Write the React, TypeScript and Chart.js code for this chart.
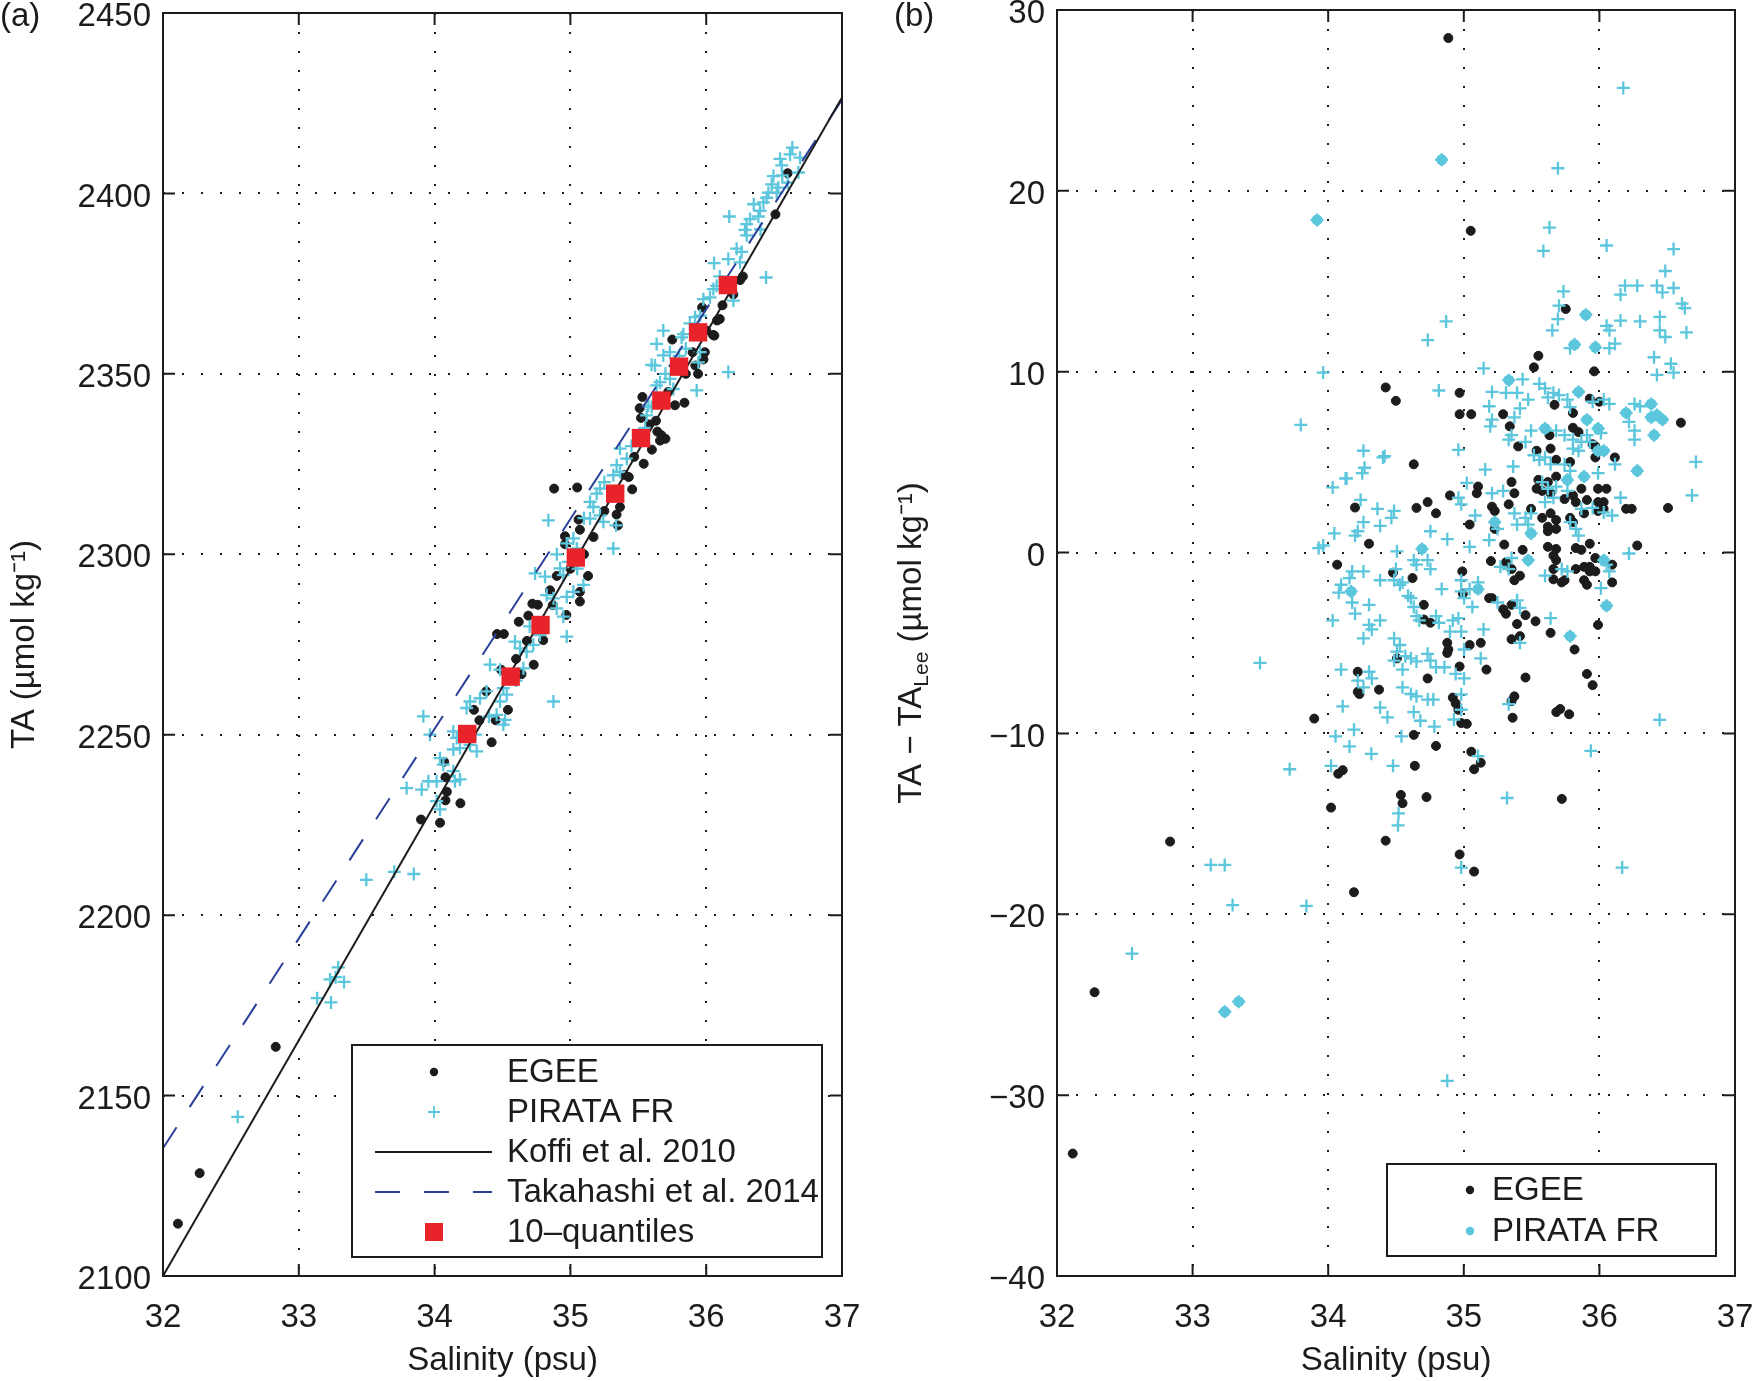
import { useEffect, useRef } from 'react';
import { Chart, registerables } from 'chart.js';
import type { ChartConfiguration, Plugin } from 'chart.js';

Chart.register(...registerables);

const FONT = '"Liberation Sans", Arial, Helvetica, sans-serif';
const INK = '#1c1c1c';
const CYAN = '#5cc6dc';
const NAVY = '#2a419a';
const RED = '#e8232a';

type Pt = [number, number];

// axes
const salinityTicks = [32, 33, 34, 35, 36, 37];
const taTicks = [2100, 2150, 2200, 2250, 2300, 2350, 2400, 2450];
const diffTicks = [-40, -30, -20, -10, 0, 10, 20, 30];

// panel (a): fitted relations, two end points each
const koffiLine: Pt[] = [[32, 2100], [37, 2426.6]];
const takahashiLine: Pt[] = [[32, 2135.4], [37, 2426]];

const quantiles: Pt[] = [
  [34.24, 2250.2], [34.56, 2266.1], [34.78, 2280.4], [35.04, 2299.1], [35.33, 2316.8],
  [35.52, 2332.2], [35.67, 2342.6], [35.8, 2352.0], [35.94, 2361.5], [36.16, 2374.6],
];

const egeeTA: Pt[] = [
  [36.6, 2405.6], [36.51, 2394.2], [36.27, 2377.0], [36.25, 2376.0], [35.97, 2368.4], [36.1, 2365.2],
  [36.06, 2360.6], [35.75, 2359.5], [35.99, 2356.0], [35.98, 2354.0], [35.92, 2352.3], [35.94, 2350.0],
  [35.77, 2341.3], [35.84, 2342.0], [35.51, 2340.5], [35.53, 2343.6], [35.63, 2337.0], [35.67, 2333.0],
  [35.52, 2337.8], [35.7, 2332.0], [36.05, 2360.8], [36.08, 2364.8], [35.64, 2334.0], [35.66, 2331.5],
  [35.54, 2325.1], [35.43, 2321.4], [35.455, 2318.0], [35.365, 2313.1], [35.34, 2311.0], [35.35, 2308.0],
  [34.88, 2318.2], [35.05, 2318.5], [35.06, 2309.6], [35.07, 2306.8], [35.17, 2304.8], [34.96, 2305.0],
  [34.96, 2302.8], [35.13, 2294.0], [34.9, 2294.0], [35.07, 2289.6], [35.07, 2286.9], [34.97, 2283.2],
  [34.87, 2285.9], [34.76, 2286.0], [34.72, 2286.3], [34.62, 2281.3], [34.69, 2283.0], [34.8, 2276.2],
  [34.46, 2277.9], [34.51, 2277.9], [34.73, 2269.4], [34.64, 2266.8], [34.49, 2268.0], [34.33, 2254.0],
  [34.29, 2256.9], [34.54, 2256.9], [34.45, 2254.0], [34.42, 2247.9], [34.07, 2242.5], [34.08, 2238.2],
  [34.09, 2234.2], [34.08, 2231.8], [34.19, 2231.0], [33.9, 2226.5], [34.04, 2225.6], [32.83, 2163.5],
  [32.27, 2128.5], [32.11, 2114.5], [35.25, 2312.0], [35.3, 2316.0], [35.4, 2322.0], [35.47, 2327.0],
  [35.58, 2336.0], [35.6, 2329.0], [35.72, 2345.0], [35.85, 2350.0], [35.9, 2356.0], [36.0, 2362.0],
  [36.12, 2369.0], [36.2, 2372.0], [34.6, 2271.0], [34.68, 2276.0], [34.85, 2290.0], [35.0, 2296.0],
  [35.1, 2300.0], [34.38, 2262.0], [34.25, 2249.0],
];

const pirataTA: Pt[] = [
  [36.634, 2412.7], [36.617, 2410.8], [36.544, 2409.6], [36.556, 2407.8], [36.691, 2409.9], [36.495, 2404.8],
  [36.482, 2402.5], [36.531, 2401.6], [36.679, 2405.8], [36.445, 2398.8], [36.421, 2397.5], [36.458, 2400.2],
  [36.519, 2400.2], [36.396, 2395.2], [36.384, 2393.6], [36.323, 2392.9], [36.298, 2391.5], [36.286, 2389.9],
  [36.298, 2388.4], [36.17, 2393.6], [36.224, 2384.7], [36.261, 2383.8], [36.163, 2381.8], [36.249, 2380.9],
  [36.058, 2380.7], [36.441, 2376.7], [36.077, 2374.4], [36.053, 2373.5], [36.2, 2370.3], [35.979, 2370.7],
  [36.028, 2371.2], [35.918, 2365.7], [35.955, 2366.1], [35.832, 2361.0], [35.819, 2360.1], [35.684, 2362.0],
  [35.635, 2358.3], [35.733, 2356.0], [35.684, 2355.1], [35.598, 2352.5], [35.623, 2352.3], [35.955, 2356.0],
  [35.942, 2353.2], [35.93, 2345.4], [36.163, 2350.5], [35.66, 2347.7], [35.635, 2346.8], [35.733, 2348.6],
  [35.574, 2341.2], [35.598, 2340.8], [35.562, 2338.5], [35.66, 2342.2], [35.758, 2345.8], [35.365, 2329.3],
  [35.415, 2326.5], [35.341, 2324.7], [35.366, 2322.8], [35.316, 2321.9], [35.218, 2318.2], [35.194, 2316.8],
  [35.145, 2314.5], [35.169, 2313.1], [35.218, 2310.8], [35.243, 2309.0], [35.145, 2309.9], [35.336, 2308.0],
  [35.316, 2301.6], [34.838, 2309.4], [35.022, 2304.4], [34.973, 2303.0], [35.047, 2301.6], [34.985, 2297.9],
  [34.924, 2296.1], [34.948, 2294.2], [35.096, 2291.5], [35.022, 2289.6], [34.973, 2288.2], [34.875, 2287.8],
  [34.825, 2288.7], [34.899, 2285.0], [34.948, 2282.7], [34.74, 2294.7], [34.813, 2293.8], [34.973, 2277.2],
  [34.776, 2277.6], [34.727, 2274.9], [34.678, 2273.0], [34.629, 2273.9], [34.592, 2275.8], [34.408, 2269.4],
  [34.482, 2268.0], [34.58, 2267.0], [34.654, 2268.4], [34.506, 2262.9], [34.531, 2261.1], [34.482, 2259.2],
  [34.383, 2262.0], [34.334, 2260.1], [34.261, 2259.2], [34.236, 2257.4], [34.519, 2254.1], [34.506, 2252.8],
  [34.457, 2255.5], [34.875, 2259.2], [34.138, 2250.9], [34.163, 2249.1], [34.138, 2245.9], [34.187, 2246.3],
  [34.31, 2245.4], [34.261, 2247.2], [33.917, 2255.1], [33.966, 2250.0], [34.04, 2243.5], [34.064, 2241.7],
  [34.138, 2239.9], [34.187, 2237.6], [34.015, 2237.1], [33.954, 2237.1], [34.15, 2237.1], [33.794, 2235.2],
  [33.905, 2234.8], [34.015, 2231.6], [34.04, 2229.3], [33.497, 2209.8], [33.703, 2212.0], [33.847, 2211.4],
  [33.271, 2182.8], [33.23, 2182.2], [33.29, 2185.5], [33.333, 2181.5], [33.135, 2177.0], [33.237, 2175.8],
  [32.55, 2144.1], [35.45, 2330.0], [35.5, 2333.0], [35.55, 2335.0], [35.25, 2320.0], [35.1, 2310.0],
  [35.05, 2296.0], [34.9, 2300.0], [34.7, 2280.0], [34.6, 2265.0], [34.4, 2255.0], [34.3, 2250.0],
  [35.8, 2355.0], [35.85, 2357.0], [36.1, 2377.0], [36.35, 2397.0], [36.56, 2405.0], [36.6, 2403.0],
  [36.4, 2390.0], [35.88, 2364.0], [35.7, 2350.0],
];

// panel (b): TA - TA_Lee
const egeeDiff: Pt[] = [
  [34.886, 28.45], [35.051, 17.79], [35.752, 13.47], [35.55, 10.88], [35.517, 10.24], [35.962, 10.02],
  [34.424, 9.13], [34.499, 8.39], [34.969, 8.83], [34.969, 7.65], [35.055, 7.65], [35.29, 7.65],
  [35.669, 8.17], [35.929, 8.51], [35.999, 8.34], [35.805, 7.72], [35.339, 6.98], [35.805, 6.9],
  [35.846, 6.66], [36.601, 7.18], [35.632, 6.49], [35.401, 5.87], [35.537, 5.63], [35.64, 5.75],
  [35.681, 5.13], [35.784, 5.01], [35.97, 5.26], [35.95, 5.99], [35.97, 5.87], [36.114, 5.26],
  [34.631, 4.88], [35.55, 4.02], [35.62, 3.9], [35.681, 4.2], [35.537, 3.53], [35.578, 3.41],
  [35.64, 3.28], [35.867, 3.53], [35.99, 3.53], [36.052, 3.53], [35.99, 2.79], [36.031, 2.79],
  [35.743, 2.96], [35.805, 3.16], [35.908, 2.91], [35.826, 2.79], [35.105, 3.65], [35.096, 3.28],
  [34.898, 3.16], [35.352, 3.9], [35.373, 3.28], [35.331, 2.67], [35.208, 2.54], [35.228, 2.3],
  [35.496, 2.42], [35.62, 1.43], [35.681, 1.8], [35.64, 2.17], [35.578, 1.92], [35.784, 1.92],
  [35.887, 2.17], [35.99, 2.3], [36.031, 2.42], [36.197, 2.42], [36.238, 2.42], [36.506, 2.47],
  [34.198, 2.49], [34.651, 2.47], [34.733, 2.79], [34.795, 2.17], [35.043, 1.55], [35.228, 1.31],
  [35.62, 1.18], [35.681, 1.31], [35.805, 1.68], [34.301, 0.49], [35.298, 0.44], [35.434, 0.15],
  [35.62, 0.32], [35.681, 0.2], [35.826, 0.25], [35.867, 0.15], [35.929, 0.49], [36.279, 0.39],
  [35.97, -0.3], [35.929, -0.79], [35.661, -0.17], [35.681, -0.42], [34.066, -0.67], [35.2, -0.47],
  [35.311, -0.54], [35.352, -0.91], [35.661, -0.91], [35.826, -0.91], [35.887, -0.79], [35.97, -1.04],
  [35.929, -1.04], [36.094, -0.67], [36.094, -1.65], [35.887, -1.53], [35.908, -1.78], [35.722, -1.65],
  [35.661, -1.48], [35.743, -1.53], [35.373, -1.53], [35.414, -1.28], [34.989, -1.04], [34.622, -1.41],
  [34.478, -1.11], [34.993, -2.27], [35.187, -2.52], [35.208, -2.52], [34.705, -2.89], [35.352, -2.89],
  [35.29, -3.14], [35.311, -3.38], [35.455, -3.46], [35.529, -3.8], [34.705, -3.7], [34.754, -3.88],
  [35.393, -3.95], [35.99, -4.0], [35.64, -4.44], [35.352, -4.79], [35.414, -4.62], [34.878, -4.99],
  [34.886, -5.36], [34.878, -5.55], [35.125, -4.99], [35.043, -5.11], [34.507, -5.85], [34.969, -6.3],
  [35.167, -6.47], [35.455, -6.91], [35.817, -5.36], [35.908, -6.71], [35.95, -7.33], [34.733, -6.96],
  [34.218, -6.59], [34.218, -7.7], [34.23, -7.82], [34.375, -7.58], [35.373, -7.95], [34.919, -8.02],
  [34.94, -8.33], [34.96, -8.69], [34.981, -9.43], [35.022, -9.47], [35.352, -8.21], [35.36, -9.13],
  [35.682, -8.82], [35.711, -8.65], [35.777, -8.94], [33.897, -9.18], [34.631, -10.08], [34.795, -10.69],
  [35.055, -11.01], [35.125, -11.62], [35.076, -11.98], [34.639, -11.79], [34.074, -12.23], [34.107, -12.03],
  [34.536, -13.4], [34.548, -13.86], [34.725, -13.52], [34.021, -14.1], [35.723, -13.62], [34.424, -15.93],
  [32.834, -15.98], [34.969, -16.69], [35.076, -17.64], [34.19, -18.78], [32.277, -24.31], [32.116, -33.23],
];

const pirataDiff: Pt[] = [
  [36.176, 25.69], [35.694, 21.25], [35.632, 17.97], [35.587, 16.68], [36.053, 16.98], [36.547, 16.78],
  [36.486, 15.57], [36.189, 14.76], [36.279, 14.76], [36.424, 14.76], [36.547, 14.63], [36.465, 14.39],
  [36.156, 14.26], [35.735, 14.44], [35.702, 13.65], [35.694, 12.91], [35.653, 12.29], [34.87, 12.78],
  [34.734, 11.75], [36.053, 12.54], [36.074, 12.29], [36.156, 12.83], [36.3, 12.78], [36.445, 13.03],
  [36.445, 12.29], [36.486, 11.92], [36.63, 13.52], [36.642, 12.17], [36.609, 13.77], [36.115, 11.55],
  [36.074, 11.3], [36.403, 10.8], [36.527, 10.44], [36.424, 9.82], [36.547, 9.95], [35.784, 11.3],
  [33.963, 9.95], [34.816, 8.96], [35.146, 10.19], [35.187, 8.09], [35.208, 8.88], [35.311, 8.83],
  [35.393, 8.83], [35.434, 9.58], [35.557, 9.33], [35.599, 9.08], [35.661, 8.83], [35.702, 8.71],
  [35.62, 8.58], [35.475, 8.46], [35.414, 7.97], [35.764, 8.46], [35.784, 8.04], [35.95, 8.34],
  [36.032, 8.46], [36.073, 8.22], [36.259, 8.22], [36.3, 8.09], [36.218, 7.23], [36.259, 6.74],
  [36.259, 6.24], [35.195, 6.98], [35.208, 7.35], [35.373, 7.48], [35.331, 6.24], [35.352, 6.49],
  [35.455, 6.12], [35.496, 6.74], [35.681, 6.74], [35.743, 6.49], [35.805, 6.24], [35.867, 6.12],
  [36.011, 6.61], [35.908, 6.49], [35.929, 6.12], [35.805, 5.75], [35.846, 5.63], [35.517, 5.38],
  [35.557, 5.13], [35.599, 5.26], [35.64, 4.88], [35.743, 4.88], [35.784, 4.52], [35.99, 4.39],
  [36.115, 4.88], [36.712, 5.01], [36.683, 3.16], [36.156, 3.03], [34.96, 5.68], [35.158, 4.59],
  [35.364, 4.76], [35.022, 3.85], [35.208, 3.28], [35.29, 3.41], [35.578, 3.9], [35.62, 3.53],
  [35.661, 3.03], [35.599, 2.79], [35.764, 3.41], [35.681, 3.65], [35.496, 2.17], [35.373, 2.17],
  [35.455, 1.92], [35.475, 1.55], [35.249, 1.31], [35.784, 1.68], [35.826, 1.31], [35.846, 0.94],
  [35.867, 2.42], [35.95, 2.47], [36.032, 2.22], [36.094, 2.05], [35.084, 2.05], [34.96, 3.03],
  [34.981, 2.67], [34.251, 4.39], [34.268, 4.69], [34.136, 4.1], [34.416, 5.33], [34.26, 5.63],
  [34.239, 2.91], [34.363, 2.42], [34.486, 2.3], [34.466, 1.92], [34.26, 1.68], [34.218, 1.18],
  [34.198, 0.94], [34.383, 1.48], [34.045, 1.06], [33.93, 0.25], [33.963, 0.39], [34.754, 1.18],
  [34.878, 0.74], [35.043, 0.32], [35.187, 0.69], [35.393, 1.55], [35.352, -0.3], [35.27, -0.79],
  [35.331, -0.91], [35.599, -1.28], [35.722, -0.91], [35.764, -1.04], [36.053, -0.67], [36.073, -1.04],
  [36.011, -1.97], [36.218, -0.05], [34.507, 0.07], [34.499, -0.91], [34.486, -1.53], [34.631, -0.42],
  [34.651, -0.67], [34.733, -0.42], [34.754, -0.91], [34.383, -1.53], [34.528, -1.78], [34.548, -1.65],
  [34.589, -2.39], [34.61, -2.52], [34.26, -1.04], [34.177, -1.04], [34.157, -1.41], [34.095, -1.78],
  [34.078, -2.22], [34.177, -2.76], [34.198, -3.38], [34.301, -2.89], [34.033, -3.75], [34.301, -4.0],
  [34.383, -3.75], [34.631, -3.01], [34.651, -3.51], [34.672, -3.75], [34.837, -2.02], [34.981, -1.53],
  [34.981, -2.15], [35.002, -2.52], [35.105, -1.65], [35.043, -2.02], [35.063, -3.01], [35.249, -2.76],
  [35.393, -2.64], [35.414, -3.06], [34.795, -3.51], [34.816, -3.88], [34.919, -3.75], [34.96, -3.63],
  [34.981, -4.37], [35.146, -4.25], [35.64, -3.63], [35.414, -4.99], [34.322, -4.25], [34.26, -4.74],
  [34.486, -4.74], [34.528, -5.11], [34.507, -5.48], [34.569, -5.73], [34.61, -5.85], [34.651, -6.02],
  [34.486, -5.97], [34.548, -6.47], [34.733, -5.6], [34.754, -5.97], [34.795, -6.34], [34.857, -6.34],
  [34.898, -4.37], [35.125, -5.85], [35.002, -5.36], [34.095, -6.47], [34.301, -6.59], [34.218, -7.08],
  [34.26, -7.45], [34.322, -6.96], [34.548, -7.45], [34.61, -7.82], [34.651, -7.95], [34.94, -6.71],
  [35.002, -6.96], [33.497, -6.1], [33.798, 7.06], [34.033, 3.6], [34.128, 4.1], [34.404, 5.26],
  [34.107, -8.5], [34.383, -8.57], [34.437, -9.11], [34.631, -8.82], [34.68, -9.3], [34.734, -8.13],
  [34.775, -8.13], [34.783, -9.62], [34.927, -9.23], [34.981, -8.69], [34.981, -7.84], [35.331, -8.38],
  [34.054, -10.16], [34.19, -9.79], [34.157, -10.72], [34.54, -10.16], [34.318, -11.13], [34.021, -11.79],
  [34.478, -11.79], [33.716, -11.98], [35.105, -11.25], [35.937, -10.96], [35.319, -13.57], [34.519, -14.42],
  [34.515, -15.08], [33.134, -17.27], [33.237, -17.27], [34.981, -17.42], [36.168, -17.42], [33.295, -19.49],
  [33.839, -19.54], [32.553, -22.17], [34.878, -29.21], [36.444, -9.25],
];

// PIRATA FR samples drawn with a filled dot in panel (b)
const pirataDiffDots: Pt[] = [
  [34.837, 21.72], [33.918, 18.39], [35.9, 13.15], [35.817, 11.5], [35.97, 11.35], [35.332, 9.53],
  [35.846, 8.88], [36.197, 7.72], [36.382, 8.22], [36.382, 7.48], [36.424, 7.6], [36.465, 7.35],
  [36.403, 6.49], [35.599, 6.86], [35.908, 7.35], [35.99, 6.86], [35.99, 5.63], [36.032, 5.63],
  [35.764, 4.02], [35.887, 4.2], [36.279, 4.52], [35.496, 1.06], [35.228, 1.68], [34.692, 0.2],
  [35.475, -0.42], [36.032, -0.42], [34.169, -2.15], [35.105, -2.02], [35.784, -4.62], [36.053, -2.94],
  [33.237, -25.39], [33.34, -24.83],
];

const xy = (pts: Pt[]) => pts.map(([x, y]) => ({ x, y }));
const tickText = (v: number | string) => {
  const n = Number(v);
  return n < 0 ? `\u2212${Math.abs(n)}` : `${n}`;
};

type Row = { label: string; kind: 'dot' | 'cross' | 'line' | 'dash' | 'square' | 'cdot' };
type Box = { x0: number; y0: number; x1: number; y1: number; mx: number; tx: number; rows: number[] };

const drawMarker = (ctx: CanvasRenderingContext2D, kind: Row['kind'], x: number, y: number) => {
  ctx.save();
  if (kind === 'dot' || kind === 'cdot') {
    ctx.fillStyle = kind === 'dot' ? INK : CYAN;
    ctx.beginPath();
    ctx.arc(x, y, 4.2, 0, Math.PI * 2);
    ctx.fill();
  } else if (kind === 'cross') {
    ctx.strokeStyle = CYAN;
    ctx.lineWidth = 1.8;
    ctx.beginPath();
    ctx.moveTo(x - 6, y);
    ctx.lineTo(x + 6, y);
    ctx.moveTo(x, y - 6);
    ctx.lineTo(x, y + 6);
    ctx.stroke();
  } else if (kind === 'square') {
    ctx.fillStyle = RED;
    ctx.fillRect(x - 9, y - 9, 18, 18);
  } else {
    ctx.strokeStyle = kind === 'line' ? INK : NAVY;
    ctx.lineWidth = 2;
    ctx.setLineDash(kind === 'dash' ? [25, 24] : []);
    ctx.beginPath();
    ctx.moveTo(x - 59, y);
    ctx.lineTo(x + 58, y);
    ctx.stroke();
  }
  ctx.restore();
};

const framePlugin = (panel: string, panelX: number, legend: Row[], box: Box, rightTitle: boolean): Plugin<'scatter'> => ({
  id: 'frame',
  afterDraw(chart) {
    const { ctx, chartArea, scales } = chart;
    const { left, right, top, bottom } = chartArea;
    ctx.save();
    ctx.strokeStyle = INK;
    ctx.lineWidth = 2;
    ctx.setLineDash([]);
    ctx.beginPath();
    for (const t of scales.x.ticks) {
      const px = scales.x.getPixelForValue(t.value);
      ctx.moveTo(px, bottom);
      ctx.lineTo(px, bottom - 12);
      ctx.moveTo(px, top);
      ctx.lineTo(px, top + 12);
    }
    for (const t of scales.y.ticks) {
      const py = scales.y.getPixelForValue(t.value);
      ctx.moveTo(left, py);
      ctx.lineTo(left + 12, py);
      ctx.moveTo(right, py);
      ctx.lineTo(right - 12, py);
    }
    ctx.stroke();
    ctx.strokeRect(left, top, right - left, bottom - top);

    // legend
    ctx.fillStyle = '#fff';
    ctx.fillRect(box.x0, box.y0, box.x1 - box.x0, box.y1 - box.y0);
    ctx.strokeRect(box.x0, box.y0, box.x1 - box.x0, box.y1 - box.y0);
    ctx.font = `33px ${FONT}`;
    ctx.textBaseline = 'middle';
    ctx.textAlign = 'left';
    legend.forEach((row, i) => {
      drawMarker(ctx, row.kind, box.mx, box.rows[i]);
      ctx.fillStyle = INK;
      ctx.fillText(row.label, box.tx, box.rows[i] + 1);
    });

    // panel letter
    ctx.fillStyle = INK;
    ctx.fillText(panel, panelX, 17);

    if (rightTitle) {
      const a = 'TA \u2212 TA';
      const b = 'Lee';
      const c = ' (\u00b5mol kg\u207b\u00b9)';
      ctx.translate(35, (top + bottom) / 2);
      ctx.rotate(-Math.PI / 2);
      ctx.font = `33px ${FONT}`;
      const wa = ctx.measureText(a).width;
      const wc = ctx.measureText(c).width;
      ctx.font = `21px ${FONT}`;
      const wb = ctx.measureText(b).width;
      let x = -(wa + wb + wc) / 2;
      ctx.font = `33px ${FONT}`;
      ctx.fillText(a, x, 0);
      x += wa;
      ctx.font = `21px ${FONT}`;
      ctx.fillText(b, x, 10);
      x += wb;
      ctx.font = `33px ${FONT}`;
      ctx.fillText(c, x, 0);
    }
    ctx.restore();
  },
});

const axisFont = { family: FONT, size: 33 };

const xAxis = () => ({
  type: 'linear' as const,
  min: 32,
  max: 37,
  afterBuildTicks: (s: any) => {
    s.ticks = salinityTicks.map((value) => ({ value }));
  },
  afterFit: (s: any) => {
    s.height = 105;
    s.paddingLeft = 0;
    s.paddingRight = 0;
  },
  ticks: { color: INK, font: axisFont, padding: 22, maxRotation: 0, autoSkip: false, callback: tickText },
  grid: { color: INK, lineWidth: 2, drawTicks: false },
  border: { display: false, dash: [2, 17] },
  title: { display: true, text: 'Salinity (psu)', color: INK, font: axisFont, padding: 0 },
});

const yAxis = (min: number, max: number, ticks: number[], width: number, title: string) => ({
  type: 'linear' as const,
  min,
  max,
  afterBuildTicks: (s: any) => {
    s.ticks = ticks.map((value) => ({ value }));
  },
  afterFit: (s: any) => {
    s.width = width;
    s.paddingTop = 0;
    s.paddingBottom = 0;
  },
  ticks: { color: INK, font: axisFont, padding: 12, labelOffset: 4, autoSkip: false, callback: tickText },
  grid: { color: INK, lineWidth: 2, drawTicks: false },
  border: { display: false, dash: [2, 17] },
  title: { display: title !== '', text: title, color: INK, font: axisFont, padding: { top: 5, bottom: 0 } },
});

const configA = (): ChartConfiguration<'scatter'> => ({
  type: 'scatter',
  data: {
    datasets: [
      { label: '10\u2013quantiles', data: xy(quantiles), order: 0, pointStyle: 'rect', pointRadius: 13, backgroundColor: RED, borderWidth: 0 },
      { label: 'Koffi et al. 2010', data: xy(koffiLine), order: 1, showLine: true, pointRadius: 0, borderColor: INK, borderWidth: 2 },
      { label: 'Takahashi et al. 2014', data: xy(takahashiLine), order: 2, showLine: true, pointRadius: 0, borderColor: NAVY, borderWidth: 2, borderDash: [25, 24] },
      { label: 'PIRATA FR', data: xy(pirataTA), order: 3, pointStyle: 'cross', pointRadius: 6.5, borderColor: CYAN, borderWidth: 2.3 },
      { label: 'EGEE', data: xy(egeeTA), order: 4, pointStyle: 'circle', pointRadius: 4.5, backgroundColor: INK, borderColor: INK, borderWidth: 1 },
    ],
  },
  options: {
    responsive: false,
    animation: false,
    events: [],
    layout: { padding: { top: 10, right: 35, bottom: 0, left: 0 } },
    plugins: { legend: { display: false }, tooltip: { enabled: false } },
    scales: {
      x: xAxis(),
      y: yAxis(2100, 2450, taTicks, 163, 'TA (\u00b5mol kg\u207b\u00b9)'),
    },
  },
  plugins: [
    framePlugin(
      '(a)',
      0,
      [
        { label: 'EGEE', kind: 'dot' },
        { label: 'PIRATA FR', kind: 'cross' },
        { label: 'Koffi et al. 2010', kind: 'line' },
        { label: 'Takahashi et al. 2014', kind: 'dash' },
        { label: '10\u2013quantiles', kind: 'square' },
      ],
      { x0: 352, y0: 1045, x1: 822, y1: 1257, mx: 434, tx: 507, rows: [1072, 1112, 1152, 1192, 1232] },
      false,
    ),
  ],
});

const configB = (): ChartConfiguration<'scatter'> => ({
  type: 'scatter',
  data: {
    datasets: [
      { label: 'PIRATA FR', data: xy([...pirataDiff, ...pirataDiffDots]), order: 0, pointStyle: 'cross', pointRadius: 6.5, borderColor: CYAN, borderWidth: 2.3 },
      { label: 'PIRATA FR dots', data: xy(pirataDiffDots), order: 1, pointStyle: 'circle', pointRadius: 5.5, backgroundColor: CYAN, borderColor: CYAN, borderWidth: 0 },
      { label: 'EGEE', data: xy(egeeDiff), order: 2, pointStyle: 'circle', pointRadius: 4.5, backgroundColor: INK, borderColor: INK, borderWidth: 1 },
    ],
  },
  options: {
    responsive: false,
    animation: false,
    events: [],
    layout: { padding: { top: 10, right: 19, bottom: 0, left: 0 } },
    plugins: { legend: { display: false }, tooltip: { enabled: false } },
    scales: {
      x: xAxis(),
      y: yAxis(-40, 30, diffTicks, 180, ''),
    },
  },
  plugins: [
    framePlugin(
      '(b)',
      17,
      [
        { label: 'EGEE', kind: 'dot' },
        { label: 'PIRATA FR', kind: 'cdot' },
      ],
      { x0: 510, y0: 1164, x1: 839, y1: 1256, mx: 593, tx: 615, rows: [1190, 1231] },
      true,
    ),
  ],
});

export default function App() {
  const leftRef = useRef<HTMLCanvasElement | null>(null);
  const rightRef = useRef<HTMLCanvasElement | null>(null);

  useEffect(() => {
    document.body.style.margin = '0';
    const l = leftRef.current;
    const r = rightRef.current;
    if (!l || !r) {
      return;
    }
    const a = new Chart(l, configA());
    const b = new Chart(r, configB());
    return () => {
      a.destroy();
      b.destroy();
    };
  }, []);

  return (
    <div style={{ display: 'flex', width: 1754, height: 1381, background: '#fff' }}>
      <canvas ref={leftRef} width={877} height={1381} style={{ display: 'block' }} />
      <canvas ref={rightRef} width={877} height={1381} style={{ display: 'block' }} />
    </div>
  );
}
